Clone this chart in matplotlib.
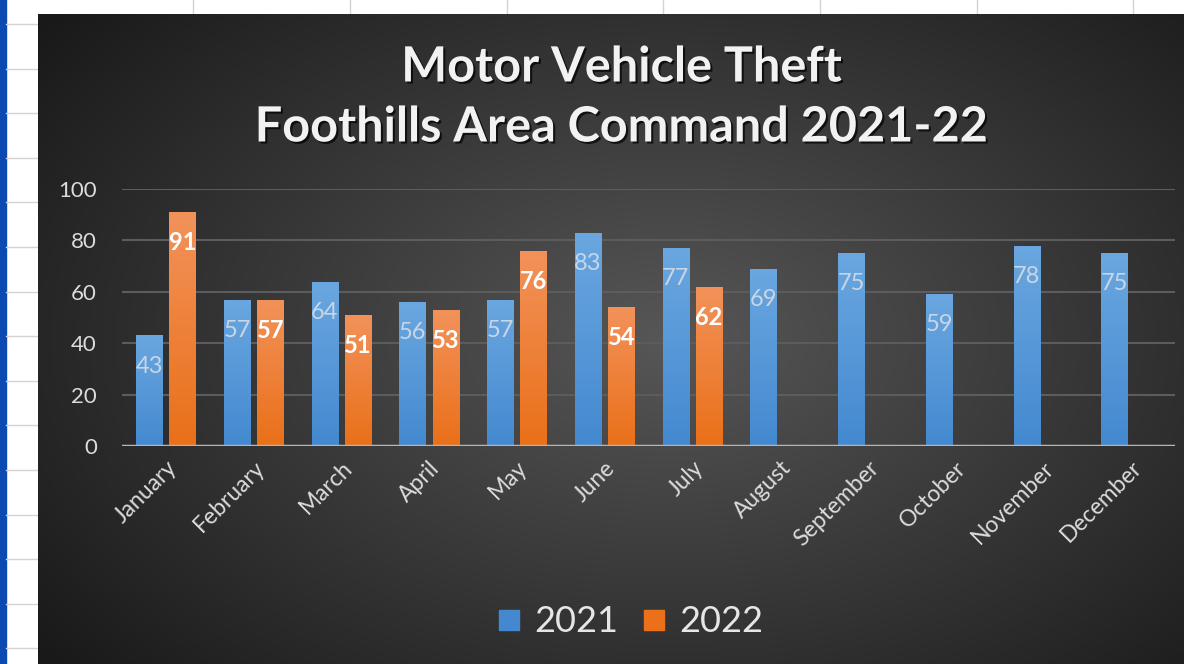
import matplotlib.pyplot as plt
import matplotlib.patheffects as pe
from matplotlib.lines import Line2D
import numpy as np

months = ["January", "February", "March", "April", "May", "June", "July",
          "August", "September", "October", "November", "December"]
thefts_2021 = [43, 57, 64, 56, 57, 83, 77, 69, 75, 59, 78, 75]
thefts_2022 = [91, 57, 51, 53, 76, 54, 62]
years = ["2021", "2022"]

plt.rcParams["font.family"] = ["Lato", "DejaVu Sans"]

BLUE_TOP, BLUE_BOT = "#6aa7e0", "#4489d0"
ORANGE_TOP, ORANGE_BOT = "#f2925a", "#ea7019"

fig = plt.figure(figsize=(11.84, 6.64), dpi=100)
fig.patch.set_facecolor("white")

# spreadsheet behind the chart
sheet = fig.add_axes([0, 0, 1, 1])
sheet.set_xlim(0, 1184)
sheet.set_ylim(664, 0)
sheet.axis("off")
for gx in [193, 350, 507, 663, 820, 977, 1133]:
    sheet.plot([gx, gx], [0, 14], color="#d4d4d4", lw=1)
for gy in np.arange(24, 664, 44.6):
    sheet.plot([6, 38], [gy, gy], color="#d4d4d4", lw=1)
sheet.fill_between([0, 6], 0, 664, color="#0b49b3")

# chart area with radial gradient
bg = fig.add_axes([38 / 1184, 0, 1 - 38 / 1184, 1 - 14 / 664])
bg.axis("off")
yy, xx = np.mgrid[0:1:300j, 0:1:500j]
r = np.sqrt(((xx - 0.55) / 0.75) ** 2 + ((yy - 0.5) / 0.85) ** 2)
shade = np.clip(0.34 - 0.26 * r, 0.1, 0.34)
bg.imshow(np.dstack([shade] * 3), extent=[0, 1, 0, 1], aspect="auto")

ax = fig.add_axes([122 / 1184, 1 - 446 / 664, (1175 - 122) / 1184, (446 - 189) / 664])
ax.patch.set_alpha(0)
x = np.arange(len(months))
w = 0.30
off = 0.19


def grad_bars(xs, vals, top, bot):
    bars = ax.bar(xs, vals, width=w, color="none", zorder=3)
    cmap = plt.matplotlib.colors.LinearSegmentedColormap.from_list("g", [bot, top])
    for b in bars:
        x0 = b.get_x()
        im = ax.imshow(np.linspace(0, 1, 100).reshape(-1, 1), cmap=cmap, origin="lower",
                       extent=[x0, x0 + b.get_width(), 0, b.get_height()],
                       aspect="auto", zorder=3)
        im.set_clip_path(b)
    return bars


b21 = grad_bars(x - off, thefts_2021, BLUE_TOP, BLUE_BOT)
b22 = grad_bars(x[:len(thefts_2022)] + off, thefts_2022, ORANGE_TOP, ORANGE_BOT)

for xi, v in zip(x - off, thefts_2021):
    ax.annotate(str(v), (xi, v), xytext=(0, -22), textcoords="offset points",
                ha="center", va="center", fontsize=17, color="#c9d6e6", zorder=5)
for xi, v in zip(x[:len(thefts_2022)] + off, thefts_2022):
    ax.annotate(str(v), (xi, v), xytext=(0, -22), textcoords="offset points",
                ha="center", va="center", fontsize=17, color="white",
                fontweight="bold", zorder=5)

ax.set_xlim(-0.5, 11.5)
ax.set_ylim(0, 100)
ax.set_yticks(range(0, 101, 20))
ax.grid(axis="y", color="#5c5c5c", lw=1.5, zorder=0)
ax.axhline(0, color="#b5b5b5", lw=2.5, zorder=4)
for s in ax.spines.values():
    s.set_visible(False)
ax.tick_params(length=0, colors="#dcdcdc", labelsize=16)
ax.tick_params(axis="y", pad=18)
ax.set_xticks(x)
ax.set_xticklabels(months, rotation=45, ha="right", rotation_mode="anchor")
ax.tick_params(axis="x", pad=8, labelsize=16.5)

shadow = [pe.SimplePatchShadow(offset=(1.5, -1.5), shadow_rgbFace="black", alpha=0.7), pe.Normal()]
fig.text(0.525, 1 - 67 / 664, "Motor Vehicle Theft", ha="center", va="center",
         fontsize=35, fontweight="bold", color="#f2f2f2", path_effects=shadow)
fig.text(0.525, 1 - 127 / 664, "Foothills Area Command 2021-22", ha="center", va="center",
         fontsize=35, fontweight="bold", color="#f2f2f2", path_effects=shadow)

handles = [Line2D([], [], ls="none", marker="s", markersize=15, color=BLUE_BOT),
           Line2D([], [], ls="none", marker="s", markersize=15, color=ORANGE_BOT)]
fig.legend(handles, years, loc="center", bbox_to_anchor=(0.531, 1 - 622 / 664), ncol=2,
           frameon=False, fontsize=26, labelcolor="#e6e6e6", handlelength=0.8,
           handletextpad=0.3, columnspacing=0.6)

fig.savefig("out.png", dpi=100)
